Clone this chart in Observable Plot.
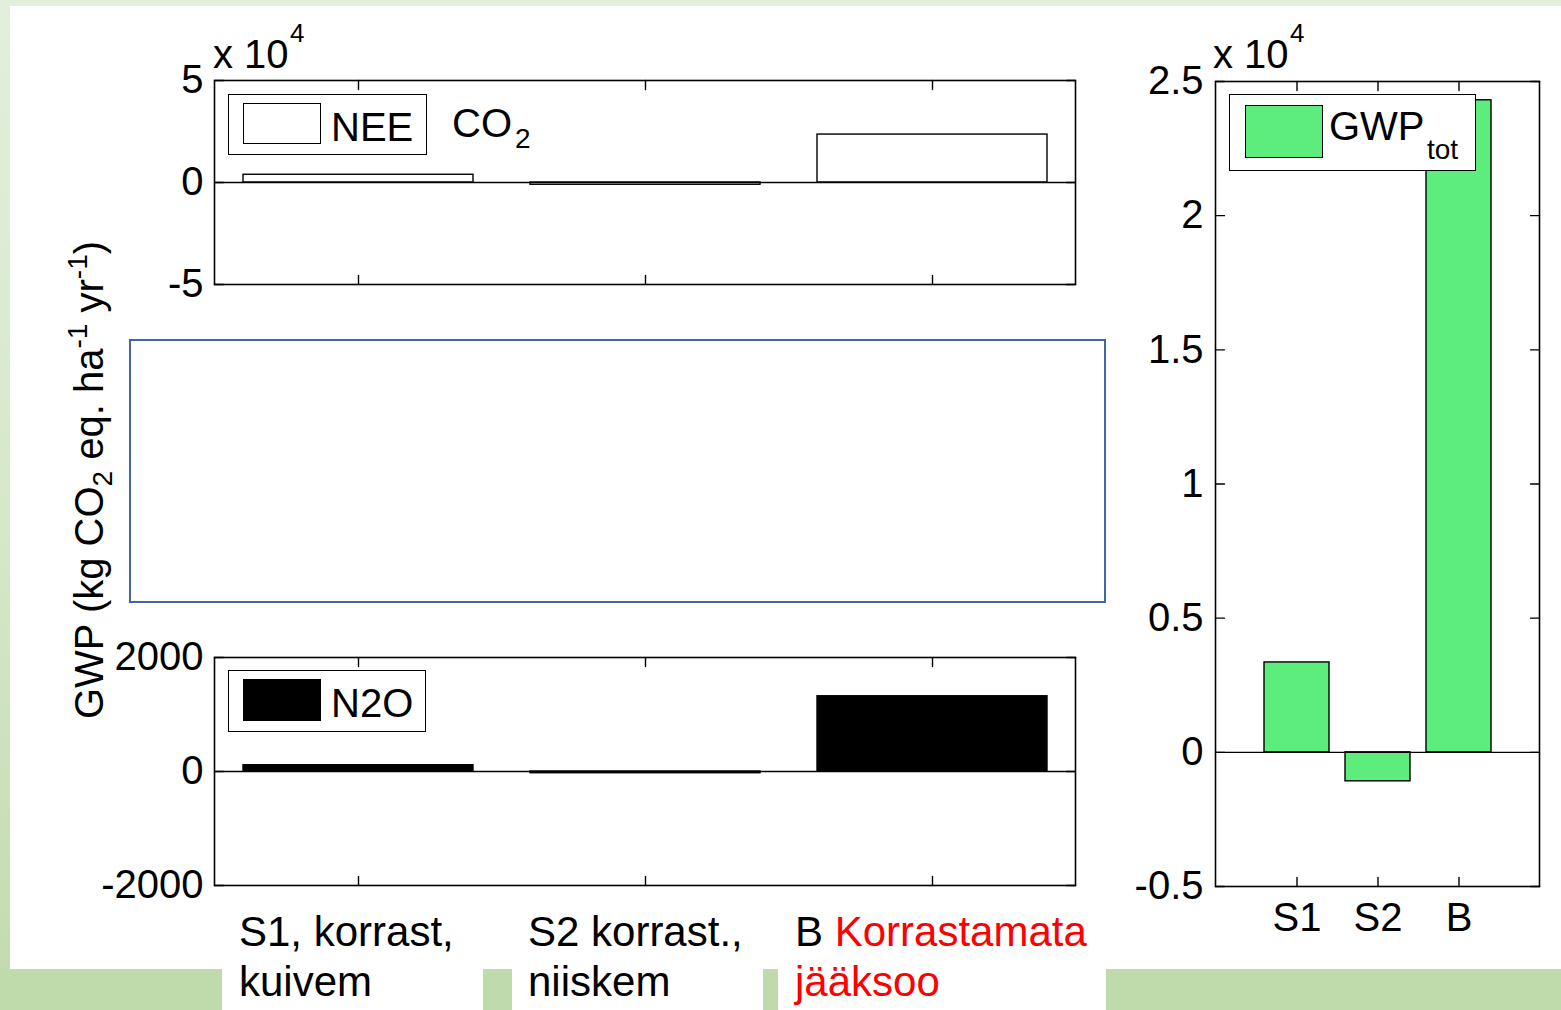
<!DOCTYPE html>
<html>
<head>
<meta charset="utf-8">
<script src="https://cdn.jsdelivr.net/npm/d3@7"></script>
<script src="https://cdn.jsdelivr.net/npm/@observablehq/plot@0.6"></script>
<style>
  html, body { margin: 0; padding: 0; background: #fff; }
  #stage { position: relative; width: 1561px; height: 1010px; overflow: hidden; background: #fff;
           font-family: "Liberation Sans", Arial, Helvetica, sans-serif; color: #000; }
  .abs { position: absolute; }
  .txt { position: absolute; white-space: nowrap; line-height: 1; }
  .legend { position: absolute; box-sizing: border-box; border: 1.5px solid #000; background: #fff; }
  .sw { position: absolute; box-sizing: border-box; border: 1.5px solid #000; }
</style>
</head>
<body>
<div id="stage"></div>
<script>
// ---------------- data ----------------
const sites = ["S1", "S2", "B"];
const neeCO2 = [3800, -1100, 23500];        // kg CO2 eq. ha-1 yr-1
const n2oGWP = [110, -30, 1320];
const gwpTotal = [3350, -1080, 24300];
const co2Ticks = [-50000, 0, 50000];
const n2oTicks = [-2000, 0, 2000];
const totTicks = [-5000, 0, 5000, 10000, 15000, 20000, 25000];
const siteLine1 = ["S1, korrast,", "S2 korrast.,", "B "];
const siteLine1Red = ["", "", "Korrastamata"];
const siteLine2 = ["kuivem", "niiskem", ""];
const siteLine2Red = ["", "", "jääksoo"];
const shortLabels = ["S1", "S2", "B"];

// ---------------- layout ----------------
const W = 1561, H = 1010;
const FONT = '"Liberation Sans", Arial, Helvetica, sans-serif';
const GREEN = "#5ced7d";
const stage = document.getElementById("stage");

function addDiv(cls, css, html) {
  const d = document.createElement("div");
  d.className = cls;
  Object.assign(d.style, css);
  if (html != null) d.innerHTML = html;
  stage.appendChild(d);
  return d;
}

// background decoration
addDiv("abs", {left: "0px", top: "0px", width: W + "px", height: "6px", background: "#e3efda"});
addDiv("abs", {left: "0px", top: "0px", width: "10px", height: "969px",
  background: "linear-gradient(to bottom, #e3efda 0%, #d5e8c8 55%, #c2dcb0 100%)"});
addDiv("abs", {left: "0px", top: "969px", width: W + "px", height: (H - 969) + "px", background: "#bfdbab"});
[[222, 483], [512, 763], [778, 1106]].forEach(([a, b]) =>
  addDiv("abs", {left: a + "px", top: "900px", width: (b - a) + "px", height: "110px", background: "#fff"}));

// empty (CH4) box
addDiv("abs", {left: "129px", top: "339px", width: "977px", height: "264px", boxSizing: "border-box",
  border: "2px solid #4366a6"});

const tickShape = {draw(ctx, l) { ctx.moveTo(0, 0); ctx.lineTo(0, -l); }};

function panel(o) {
  const rows = sites.map((s, i) => ({site: s, value: o.values[i]}));
  const tk = {length: 9, anchor: "start", shape: tickShape, stroke: "black", strokeWidth: 1.4};
  const marks = [
    Plot.barY(rows, {x: "site", y: "value", fill: o.fill, stroke: "black", strokeWidth: 1.4}),
    Plot.ruleY([0], {stroke: "black", strokeWidth: 1.4}),
    Plot.vector(sites, {x: d => d, frameAnchor: "bottom", rotate: 0, ...tk}),
    Plot.vector(sites, {x: d => d, frameAnchor: "top", rotate: 180, ...tk}),
    Plot.vector(o.yTicks, {y: d => d, frameAnchor: "left", rotate: 90, ...tk}),
    Plot.vector(o.yTicks, {y: d => d, frameAnchor: "right", rotate: -90, ...tk}),
    Plot.frame({stroke: "black", strokeWidth: 1.6}),
    Plot.axisY({ticks: o.yTicks, tickFormat: d => String(d / o.div), tickSize: 0, tickPadding: o.tp ?? 11,
      fontSize: 40, label: null})
  ];
  if (o.xLabels) marks.push(Plot.axisX({tickFormat: (d, i) => o.xLabels[sites.indexOf(d)], tickSize: 0,
    tickPadding: 16, fontSize: 40, label: null}));
  const p = Plot.plot({
    width: W, height: H,
    marginLeft: o.left, marginRight: W - o.right, marginTop: o.top, marginBottom: H - o.bottom,
    x: {type: "band", domain: sites, paddingInner: 0.2, paddingOuter: o.po, axis: o.xLabels ? undefined : null},
    y: {domain: o.yDomain, axis: null},
    style: {fontFamily: FONT, fontSize: "40px", background: "transparent", color: "black",
      overflow: "visible", position: "absolute", left: "0px", top: "0px", maxWidth: "none"},
    marks
  });
  stage.appendChild(p);
  return p;
}

const pCO2 = panel({values: neeCO2, yDomain: [-50000, 50000], yTicks: co2Ticks, div: 1e4, fill: "white",
  left: 214, right: 1075, top: 80, bottom: 284, po: 0.1});
const pN2O = panel({values: n2oGWP, yDomain: [-2000, 2000], yTicks: n2oTicks, div: 1, fill: "black",
  left: 214, right: 1075, top: 657, bottom: 885, po: 0.1});
const pTot = panel({values: gwpTotal, yDomain: [-5000, 25000], yTicks: totTicks, div: 1e4, fill: GREEN,
  left: 1215, right: 1539, top: 81, bottom: 886, po: 0.6, tp: 12, xLabels: shortLabels});

// exponent labels
function expLabel(x) {
  addDiv("txt", {left: x + "px", top: (68 - 33.9) + "px", fontSize: "40px"}, "x 10");
  addDiv("txt", {left: (x + 77) + "px", top: (42 - 22) + "px", fontSize: "26px"}, "4");
}
expLabel(213);
expLabel(1213);

// legends
addDiv("legend", {left: "228px", top: "94px", width: "199px", height: "61px"});
addDiv("sw", {left: "243px", top: "103px", width: "78px", height: "41px", background: "#fff"});
addDiv("txt", {left: "331px", top: (141 - 33.9) + "px", fontSize: "40px"}, "NEE");
addDiv("txt", {left: "452px", top: (137 - 33.9) + "px", fontSize: "40px"}, "CO");
addDiv("txt", {left: "515px", top: (149 - 23.7) + "px", fontSize: "28px"}, "2");

addDiv("legend", {left: "228px", top: "670px", width: "198px", height: "62px"});
addDiv("sw", {left: "243px", top: "679px", width: "78px", height: "42px", background: "#000"});
addDiv("txt", {left: "331px", top: (717 - 33.9) + "px", fontSize: "40px"}, "N2O");

addDiv("legend", {left: "1229px", top: "94px", width: "247px", height: "77px"});
addDiv("sw", {left: "1245px", top: "105px", width: "78px", height: "53px", background: GREEN});
addDiv("txt", {left: "1329px", top: (140 - 33.9) + "px", fontSize: "40px"}, "GWP");
addDiv("txt", {left: "1427px", top: (160 - 23.7) + "px", fontSize: "28px"}, "tot");

// y-axis title (rotated)
addDiv("txt", {left: "69px", top: "719px", fontSize: "40px", transformOrigin: "0 0", transform: "rotate(-90deg)"},
  'GWP (kg CO<span style="font-size:28px;position:relative;top:9px">2</span> eq. ha<span style="font-size:28px;position:relative;top:-16px">-1</span> yr<span style="font-size:28px;position:relative;top:-16px">-1</span>)');

// category labels under the left panels
const xs = pCO2.scale("x");
const nudge = [-4, -2, -22];
sites.forEach((s, i) => {
  const left = xs.apply(s) + nudge[i];
  const red = t => t ? `<span style="color:#ff0000">${t}</span>` : "";
  addDiv("txt", {left: left + "px", top: "907px", fontSize: "42px", lineHeight: "50px"},
    `${siteLine1[i]}${red(siteLine1Red[i])}<br>${siteLine2[i]}${red(siteLine2Red[i])}`);
});
</script>
</body>
</html>
